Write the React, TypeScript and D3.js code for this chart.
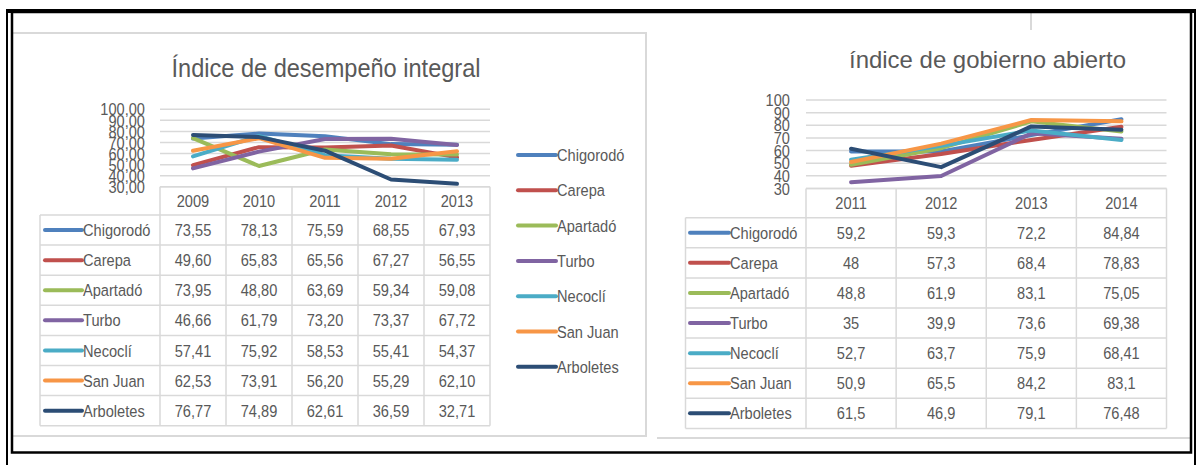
import React from 'react';
import * as d3 from 'd3';

// ---------- DATA ----------
const municipios = ['Chigorodó', 'Carepa', 'Apartadó', 'Turbo', 'Necoclí', 'San Juan', 'Arboletes'];
const seriesColors = ['#4F81BD', '#C0504D', '#9BBB59', '#8064A2', '#4BACC6', '#F79646', '#2C4D75'];

// Índice de desempeño integral
const years1 = ['2009', '2010', '2011', '2012', '2013'];
const chigorodo1 = [73.55, 78.13, 75.59, 68.55, 67.93];
const carepa1 = [49.6, 65.83, 65.56, 67.27, 56.55];
const apartado1 = [73.95, 48.8, 63.69, 59.34, 59.08];
const turbo1 = [46.66, 61.79, 73.2, 73.37, 67.72];
const necocli1 = [57.41, 75.92, 58.53, 55.41, 54.37];
const sanjuan1 = [62.53, 73.91, 56.2, 55.29, 62.1];
const arboletes1 = [76.77, 74.89, 62.61, 36.59, 32.71];
const ticks1 = [30, 40, 50, 60, 70, 80, 90, 100];

// índice de gobierno abierto
const years2 = ['2011', '2012', '2013', '2014'];
const chigorodo2 = [59.2, 59.3, 72.2, 84.84];
const carepa2 = [48, 57.3, 68.4, 78.83];
const apartado2 = [48.8, 61.9, 83.1, 75.05];
const turbo2 = [35, 39.9, 73.6, 69.38];
const necocli2 = [52.7, 63.7, 75.9, 68.41];
const sanjuan2 = [50.9, 65.5, 84.2, 83.1];
const arboletes2 = [61.5, 46.9, 79.1, 76.48];
const ticks2 = [30, 40, 50, 60, 70, 80, 90, 100];

const data1 = [chigorodo1, carepa1, apartado1, turbo1, necocli1, sanjuan1, arboletes1];
const data2 = [chigorodo2, carepa2, apartado2, turbo2, necocli2, sanjuan2, arboletes2];

const FONT = "'Liberation Sans', Arial, sans-serif";
const TEXT = '#595959';
const GRID = '#d9d9d9';
const SX = 0.86;

function T(props: { x: number; y: number; anchor?: string; size?: number; children: React.ReactNode }) {
  const { x, y, anchor = 'start', size = 17, children } = props;
  return (
    <text
      transform={`translate(${x},${y}) scale(${SX},1)`}
      dy="0.36em"
      textAnchor={anchor}
      fontFamily={FONT}
      fontSize={size}
      fill={TEXT}
    >
      {children}
    </text>
  );
}

type PanelProps = {
  title: string;
  titleX: number;
  titleY: number;
  titleW: number;
  titleSize: number;
  years: string[];
  data: number[][];
  ticks: number[];
  fmtTick: (v: number) => string;
  fmtVal: (v: number) => string;
  plotX0: number;
  plotX1: number;
  yTop: number;
  yBottom: number;
  tableLeft: number;
  headerH: number;
  rowH: number;
  tickRight: number;
  lineX0: number;
  lineX1: number;
};

function Panel(p: PanelProps) {
  const x = d3.scaleBand<string>().domain(p.years).range([p.plotX0, p.plotX1]).padding(0);
  const y = d3.scaleLinear().domain([30, 100]).range([p.yBottom, p.yTop]);
  const bw = x.bandwidth();
  const line = d3
    .line<number>()
    .x((_, i) => (x(p.years[i]) as number) + bw / 2)
    .y((v) => y(v));
  const bodyTop = p.yBottom + p.headerH;
  const tableBottom = bodyTop + p.rowH * municipios.length;
  return (
    <g>
      <text
        x={p.titleX}
        y={p.titleY}
        textAnchor="middle"
        fontFamily={FONT}
        fontSize={p.titleSize}
        fill={TEXT}
        textLength={p.titleW}
        lengthAdjust="spacingAndGlyphs"
      >
        {p.title}
      </text>
      {/* gridlines */}
      {p.ticks.map((t) => (
        <line key={'g' + t} x1={p.plotX0} x2={p.plotX1} y1={y(t)} y2={y(t)} stroke={GRID} strokeWidth={1.5} />
      ))}
      {/* tick labels */}
      {p.ticks.map((t) => (
        <T key={'t' + t} x={p.tickRight} y={y(t)} anchor="end">
          {p.fmtTick(t)}
        </T>
      ))}
      {/* series lines */}
      {p.data.map((s, i) => (
        <path
          key={'l' + i}
          d={line(s) || ''}
          fill="none"
          stroke={seriesColors[i]}
          strokeWidth={4}
          strokeLinejoin="round"
          strokeLinecap="round"
        />
      ))}
      {/* table */}
      <g stroke={GRID} strokeWidth={1.5} fill="none">
        <line x1={p.plotX0} x2={p.plotX1} y1={p.yBottom} y2={p.yBottom} />
        <line x1={p.tableLeft} x2={p.plotX1} y1={bodyTop} y2={bodyTop} />
        {municipios.map((_, i) => (
          <line
            key={'r' + i}
            x1={p.tableLeft}
            x2={p.plotX1}
            y1={bodyTop + p.rowH * (i + 1)}
            y2={bodyTop + p.rowH * (i + 1)}
          />
        ))}
        <line x1={p.tableLeft} x2={p.tableLeft} y1={bodyTop} y2={tableBottom} />
        {p.years.map((yr) => (
          <line key={'c' + yr} x1={x(yr)} x2={x(yr)} y1={p.yBottom} y2={tableBottom} />
        ))}
        <line x1={p.plotX1} x2={p.plotX1} y1={p.yBottom} y2={tableBottom} />
      </g>
      {p.years.map((yr) => (
        <T key={'h' + yr} x={(x(yr) as number) + bw / 2} y={p.yBottom + p.headerH / 2} anchor="middle">
          {yr}
        </T>
      ))}
      {municipios.map((m, i) => {
        const cy = bodyTop + p.rowH * (i + 0.5);
        return (
          <g key={'row' + m}>
            <line
              x1={p.lineX0}
              x2={p.lineX1}
              y1={cy}
              y2={cy}
              stroke={seriesColors[i]}
              strokeWidth={4}
              strokeLinecap="round"
            />
            <T x={p.lineX1 + 1} y={cy}>
              {m}
            </T>
            {p.data[i].map((v, j) => (
              <T key={'v' + j} x={(x(p.years[j]) as number) + bw / 2} y={cy} anchor="middle">
                {p.fmtVal(v)}
              </T>
            ))}
          </g>
        );
      })}
    </g>
  );
}

export default function App() {
  const comma = (s: string) => s.replace('.', ',');
  return (
    <svg
      width={1196}
      height={465}
      style={{ position: 'absolute', left: 0, top: 0, background: '#fff' }}
    >
      <rect x={0} y={0} width={1196} height={465} fill="#fff" />
      {/* panel borders */}
      <g stroke={GRID} strokeWidth={2} fill="none">
        <polyline points="12,33 646,33 646,436 12,436" />
        <line x1={657} x2={1190} y1={438} y2={438} />
        <line x1={1031} x2={1031} y1={13} y2={30} />
      </g>

      <Panel
        title="Índice de desempeño integral"
        titleX={326}
        titleY={77}
        titleW={309}
        titleSize={26}
        years={years1}
        data={data1}
        ticks={ticks1}
        fmtTick={(v) => comma(v.toFixed(2))}
        fmtVal={(v) => comma(v.toFixed(2))}
        plotX0={160}
        plotX1={490}
        yTop={109.3}
        yBottom={186.8}
        tableLeft={40}
        headerH={28.2}
        rowH={30.1}
        tickRight={145}
        lineX0={45}
        lineX1={82}
      />

      {/* legend of first chart */}
      {municipios.map((m, i) => {
        const cy = 155 + 35.3 * i;
        return (
          <g key={'lg' + m}>
            <line x1={518} x2={556} y1={cy} y2={cy} stroke={seriesColors[i]} strokeWidth={4} strokeLinecap="round" />
            <T x={557} y={cy}>
              {m}
            </T>
          </g>
        );
      })}

      <Panel
        title="índice de gobierno abierto"
        titleX={987.5}
        titleY={68}
        titleW={277}
        titleSize={24}
        years={years2}
        data={data2}
        ticks={ticks2}
        fmtTick={(v) => String(v)}
        fmtVal={(v) => comma(String(v))}
        plotX0={806}
        plotX1={1166.5}
        yTop={100}
        yBottom={188.5}
        tableLeft={685.5}
        headerH={29.2}
        rowH={30.1}
        tickRight={790}
        lineX0={690}
        lineX1={729}
      />

      {/* outer double frame */}
      <g stroke="#000" fill="none">
        <line x1={6} x2={1196} y1={11} y2={11} strokeWidth={4} />
        <line x1={7} x2={7} y1={9} y2={465} strokeWidth={2} />
        <line x1={1195} x2={1195} y1={9} y2={465} strokeWidth={2} />
        <rect x={12} y={12} width={1179} height={440.5} strokeWidth={2.5} />
      </g>
    </svg>
  );
}
